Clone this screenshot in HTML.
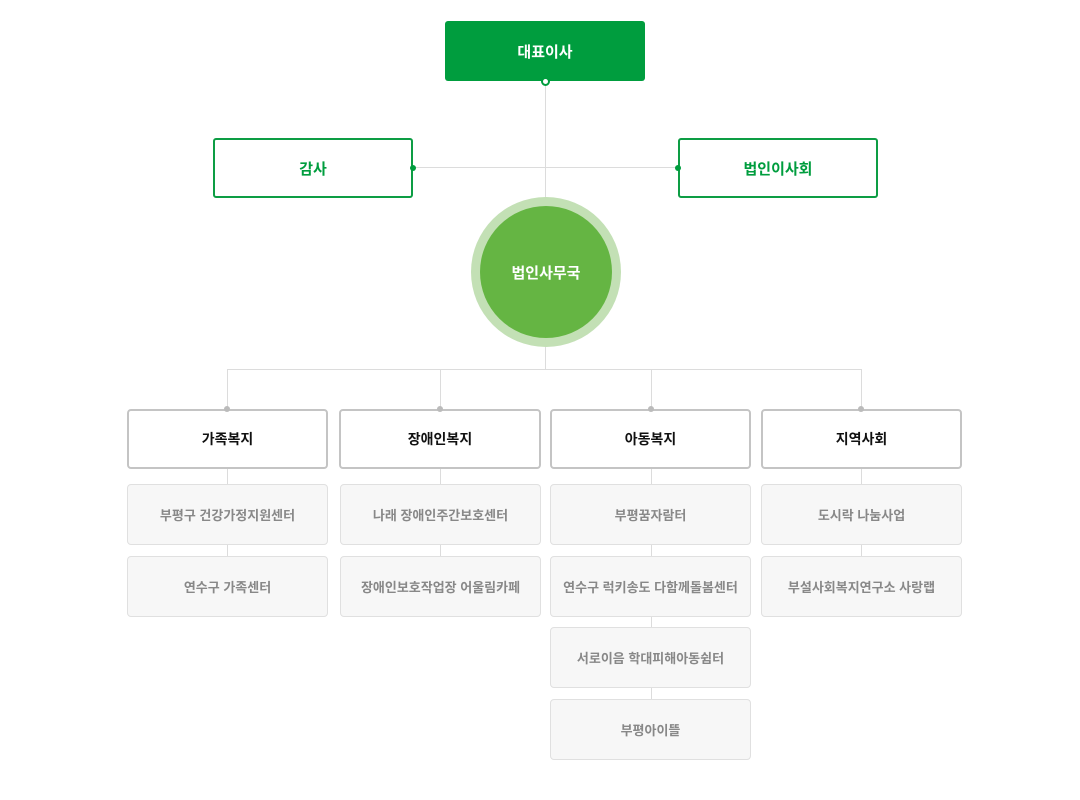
<!DOCTYPE html>
<html><head><meta charset="utf-8">
<style>
body{margin:0;width:1080px;height:800px;background:#fff;position:relative;overflow:hidden;font-family:"Liberation Sans","Noto Sans CJK KR",sans-serif;}
.a{position:absolute;box-sizing:border-box;display:flex;align-items:center;justify-content:center;font-weight:bold;}
.l{position:absolute;background:#dcdcdc;}
.top{left:445px;top:21px;width:200px;height:60px;background:#009d3e;color:#fff;border-radius:3px;font-size:15px;}
.side{top:138px;width:200px;height:60px;border:2px solid #0d9d44;border-radius:3px;color:#009d3e;font-size:15px;background:#fff;}
.cat{top:409px;height:60px;border:2px solid #c4c4c4;border-radius:4px;color:#111;font-size:14px;background:#fff;}
.sub{height:61px;border:1px solid #e0e0e0;border-radius:4px;background:#f7f7f7;color:#888;font-size:13px;}
.dot{position:absolute;width:6px;height:6px;border-radius:50%;}
</style></head><body>
<div class="l" style="left:545px;top:81px;width:1px;height:288px"></div>
<div class="l" style="left:413px;top:167px;width:265px;height:1px"></div>
<div class="l" style="left:228px;top:369px;width:634px;height:1px"></div>
<div class="l" style="left:228px;top:369px;width:1px;height:420px;display:none"></div>
<div class="l" style="left:227px;top:369px;width:1px;height:190px"></div>
<div class="l" style="left:440px;top:369px;width:1px;height:190px"></div>
<div class="l" style="left:651px;top:369px;width:1px;height:340px"></div>
<div class="l" style="left:861px;top:369px;width:1px;height:190px"></div>

<div class="a top">대표이사</div>
<div class="dot" style="left:541px;top:77px;width:5px;height:5px;background:#fff;border:2px solid #009d3e"></div>
<div class="a side" style="left:213px">감사</div>
<div class="a side" style="left:678px">법인이사회</div>
<div class="dot" style="left:410px;top:165px;background:#009d3e"></div>
<div class="dot" style="left:675px;top:165px;background:#009d3e"></div>

<div style="position:absolute;left:471px;top:197px;width:150px;height:150px;border-radius:50%;background:#c3e0b5"></div>
<div class="a" style="left:480px;top:206px;width:132px;height:132px;border-radius:50%;background:#65b543;color:#fff;font-size:15px">법인사무국</div>

<div class="a cat" style="left:127px;width:201px">가족복지</div>
<div class="a cat" style="left:339px;width:202px">장애인복지</div>
<div class="a cat" style="left:550px;width:201px">아동복지</div>
<div class="a cat" style="left:761px;width:201px">지역사회</div>
<div class="dot" style="left:224px;top:406px;background:#bbb"></div>
<div class="dot" style="left:437px;top:406px;background:#bbb"></div>
<div class="dot" style="left:648px;top:406px;background:#bbb"></div>
<div class="dot" style="left:858px;top:406px;background:#bbb"></div>

<div class="a sub" style="left:127px;top:484px;width:201px">부평구 건강가정지원센터</div>
<div class="a sub" style="left:127px;top:556px;width:201px">연수구 가족센터</div>
<div class="a sub" style="left:340px;top:484px;width:201px">나래 장애인주간보호센터</div>
<div class="a sub" style="left:340px;top:556px;width:201px">장애인보호작업장 어울림카페</div>
<div class="a sub" style="left:550px;top:484px;width:201px">부평꿈자람터</div>
<div class="a sub" style="left:550px;top:556px;width:201px">연수구 럭키송도 다함께돌봄센터</div>
<div class="a sub" style="left:550px;top:627px;width:201px">서로이음 학대피해아동쉼터</div>
<div class="a sub" style="left:550px;top:699px;width:201px">부평아이뜰</div>
<div class="a sub" style="left:761px;top:484px;width:201px">도시락 나눔사업</div>
<div class="a sub" style="left:761px;top:556px;width:201px">부설사회복지연구소 사랑랩</div>
</body></html>
